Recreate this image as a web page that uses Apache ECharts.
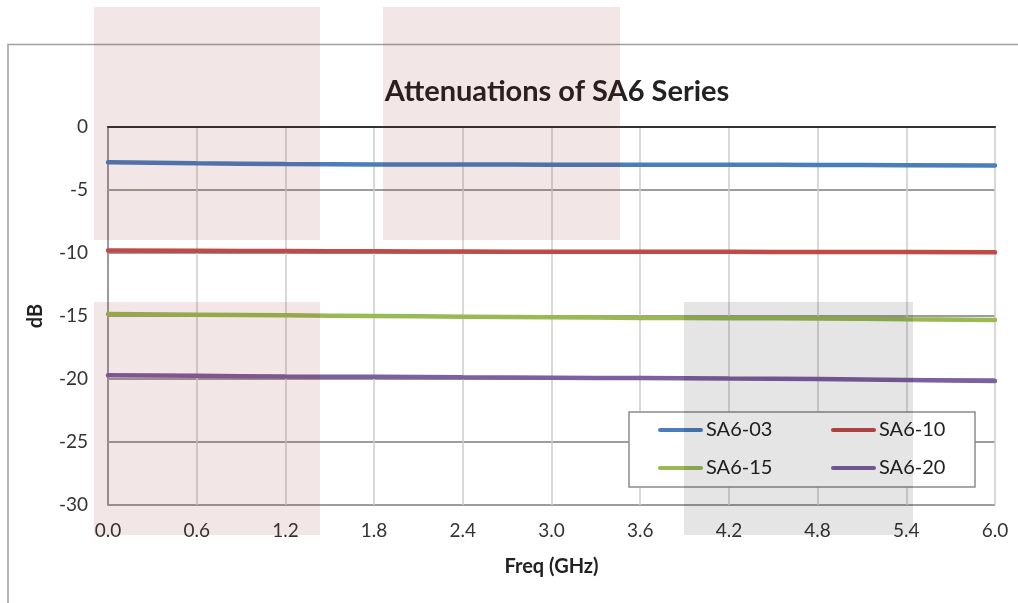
<!DOCTYPE html>
<html><head><meta charset="utf-8">
<script src="https://cdn.jsdelivr.net/npm/echarts@6/dist/echarts.min.js"></script>
<style>html,body{margin:0;padding:0;background:#fff}#c{width:1018px;height:603px}</style>
</head><body><div id="c"></div>
<script>
const freq = [0.0, 0.6, 1.2, 1.8, 2.4, 3.0, 3.6, 4.2, 4.8, 5.4, 6.0];
const sa603 = [-2.8, -2.88, -2.94, -2.97, -2.98, -2.99, -3.0, -3.0, -3.01, -3.03, -3.05];
const sa610 = [-9.8, -9.82, -9.85, -9.87, -9.88, -9.9, -9.9, -9.91, -9.92, -9.93, -9.95];
const sa615 = [-14.85, -14.9, -14.95, -15.0, -15.05, -15.1, -15.15, -15.18, -15.2, -15.25, -15.32];
const sa620 = [-19.7, -19.75, -19.8, -19.83, -19.87, -19.9, -19.93, -19.97, -20.0, -20.07, -20.15];
const seriesNames = ['SA6-03', 'SA6-10', 'SA6-15', 'SA6-20'];
const seriesData = [sa603, sa610, sa615, sa620];
const colors = ['#4a7ebb', '#be4b48', '#98b954', '#7d60a0'];

const FONT = 'Lato';
const chart = echarts.init(document.getElementById('c'));
const lineIcon = 'path://M2,0 L43,0 A2,2 0 0 1 43,4 L2,4 A2,2 0 0 1 2,0 Z';
const legendBase = {
  orient: 'vertical', itemWidth: 45, itemHeight: 5, itemGap: 18, icon: lineIcon,
  textStyle: { fontFamily: FONT, fontSize: 20, color: '#222', padding: [0,0,0,-2] },
  padding: 0, z: 10
};
chart.setOption({
  animation: false,
  color: colors,
  title: {
    text: 'Attenuations of SA6 Series', left: 552, top: 72, textAlign: 'center',
    textStyle: { fontFamily: FONT, fontSize: 29, fontWeight: 'bold', color: '#222' }
  },
  grid: { left: 108, right: 23, top: 127, bottom: 98, containLabel: false },
  legend: [
    Object.assign({}, legendBase, { left: 658, top: 420, data: [seriesNames[0], seriesNames[2]] }),
    Object.assign({}, legendBase, { left: 831, top: 420, data: [seriesNames[1], seriesNames[3]] })
  ],
  xAxis: [{
    type: 'value', min: 0, max: 6, interval: 0.6, position: 'bottom',
    name: 'Freq (GHz)', nameLocation: 'middle', nameGap: 52,
    nameTextStyle: { fontFamily: FONT, fontSize: 20, fontWeight: 'bold', color: '#222' },
    axisLine: { show: true, lineStyle: { color: '#9e9a9c', width: 2 } },
    axisTick: { show: false },
    axisLabel: { fontFamily: FONT, fontSize: 19, color: '#333', margin: 16, formatter: v => v.toFixed(1) },
    splitLine: { show: true, lineStyle: { color: '#cccccc', width: 1.5 } }
  }, {
    type: 'value', min: 0, max: 6, interval: 0.6, position: 'top',
    axisLine: { show: true, lineStyle: { color: '#333', width: 2 } },
    axisTick: { show: false }, axisLabel: { show: false }, splitLine: { show: false }
  }],
  yAxis: {
    type: 'value', min: -30, max: 0, interval: 5,
    name: 'dB', nameLocation: 'middle', nameGap: 62,
    nameTextStyle: { fontFamily: FONT, fontSize: 20, fontWeight: 'bold', color: '#222' },
    axisLine: { show: true, lineStyle: { color: '#9e9a9c', width: 2 } },
    axisTick: { show: false },
    axisLabel: { fontFamily: FONT, fontSize: 19, color: '#333', margin: 20 },
    splitLine: { show: true, lineStyle: { color: '#a09c9e', width: 2 } }
  },
  graphic: [
    { type: 'rect', z: 0, silent: true, shape: { x: 8, y: 44.5, width: 1200, height: 800 }, style: { fill: 'none', stroke: '#a0a0a0', lineWidth: 1.5 } },
    { type: 'rect', z: 5, silent: true, shape: { x: 629, y: 412, width: 346, height: 75 }, style: { fill: '#fff', stroke: '#8c8c8c', lineWidth: 1.5 } },
    { type: 'rect', z: 100, silent: true, shape: { x: 94, y: 7, width: 226, height: 233 }, style: { fill: 'rgba(135,5,5,0.1)' } },
    { type: 'rect', z: 100, silent: true, shape: { x: 383, y: 7, width: 237, height: 233 }, style: { fill: 'rgba(135,5,5,0.1)' } },
    { type: 'rect', z: 100, silent: true, shape: { x: 94, y: 302, width: 226, height: 233 }, style: { fill: 'rgba(135,5,5,0.1)' } },
    { type: 'rect', z: 100, silent: true, shape: { x: 684, y: 302, width: 229, height: 233 }, style: { fill: 'rgba(0,0,0,0.1)' } }
  ],
  series: seriesNames.map((n, i) => ({
    name: n, type: 'line', smooth: true, showSymbol: false, symbol: 'none',
    data: freq.map((f, k) => [f, seriesData[i][k]]),
    lineStyle: { width: 4.5, color: colors[i], cap: 'round' },
    itemStyle: { color: colors[i] }
  }))
});
</script></body></html>
